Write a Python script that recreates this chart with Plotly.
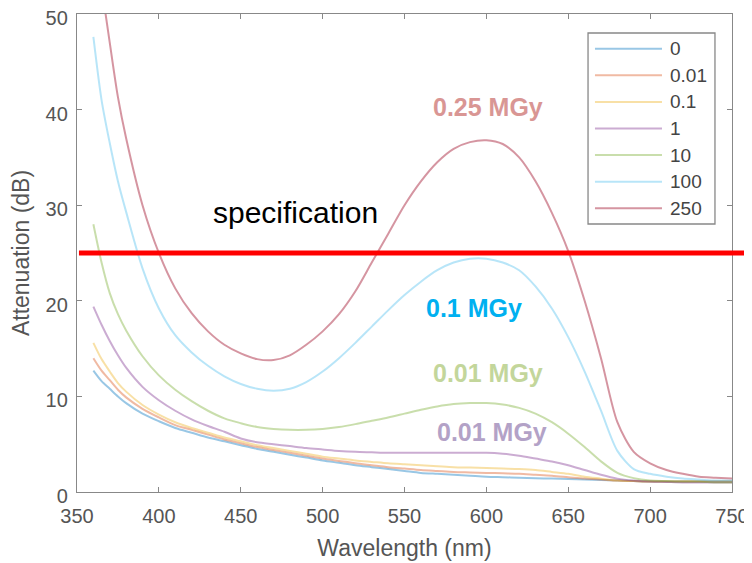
import plotly.graph_objects as go

wavelength = [360, 365, 370, 375, 380, 390, 400, 410, 420, 430, 440, 450, 460, 470,
              480, 490, 500, 510, 520, 530, 540, 550, 560, 570, 580, 590, 600, 610,
              620, 630, 640, 650, 660, 670, 680, 690, 700, 710, 720, 730, 740, 750]

dose_labels = ["0", "0.01", "0.1", "1", "10", "100", "250"]

att_0 = [12.7, 11.6, 10.8, 10.0, 9.3, 8.2, 7.4, 6.7, 6.2, 5.7, 5.3, 4.9, 4.5, 4.2,
         3.9, 3.6, 3.3, 3.05, 2.8, 2.6, 2.4, 2.2, 2.0, 1.9, 1.8, 1.7, 1.6, 1.55,
         1.5, 1.45, 1.4, 1.35, 1.3, 1.25, 1.2, 1.15, 1.1, 1.1, 1.1, 1.1, 1.1, 1.1]
att_001 = [14.0, 12.7, 11.7, 10.7, 9.9, 8.7, 7.8, 7.0, 6.5, 6.0, 5.5, 5.1, 4.7, 4.4,
           4.1, 3.8, 3.5, 3.25, 3.0, 2.8, 2.6, 2.45, 2.3, 2.2, 2.1, 2.05, 2.0, 1.95,
           1.9, 1.8, 1.7, 1.55, 1.4, 1.3, 1.2, 1.15, 1.1, 1.1, 1.1, 1.1, 1.1, 1.1]
att_01 = [15.6, 13.9, 12.6, 11.4, 10.5, 9.1, 8.1, 7.3, 6.7, 6.2, 5.7, 5.3, 4.9, 4.6,
          4.3, 4.0, 3.7, 3.5, 3.3, 3.15, 3.0, 2.9, 2.8, 2.7, 2.6, 2.55, 2.5, 2.45,
          2.4, 2.3, 2.1, 1.9, 1.6, 1.4, 1.2, 1.15, 1.1, 1.1, 1.1, 1.1, 1.1, 1.1]
att_1 = [19.4, 17.5, 15.8, 14.3, 13.0, 11.0, 9.6, 8.5, 7.6, 6.9, 6.3, 5.6, 5.2, 5.0,
         4.8, 4.6, 4.45, 4.3, 4.2, 4.15, 4.1, 4.1, 4.1, 4.1, 4.1, 4.1, 4.1, 4.0,
         3.8, 3.5, 3.2, 2.8, 2.3, 1.8, 1.4, 1.2, 1.1, 1.05, 1.0, 1.0, 1.0, 1.0]
att_10 = [28.0, 24.0, 20.8, 18.6, 16.9, 14.2, 12.2, 10.7, 9.5, 8.5, 7.7, 7.2, 6.8, 6.6,
          6.5, 6.5, 6.6, 6.8, 7.1, 7.45, 7.8, 8.2, 8.6, 8.95, 9.2, 9.3, 9.3, 9.15,
          8.8, 8.2, 7.3, 6.1, 4.7, 3.2, 2.0, 1.45, 1.2, 1.15, 1.1, 1.1, 1.0, 1.0]
att_100 = [47.6, 41.0, 36.5, 32.5, 29.3, 23.4, 19.2, 16.4, 14.6, 13.2, 12.1, 11.3, 10.8, 10.6,
           10.8, 11.5, 12.6, 14.0, 15.6, 17.3, 19.0, 20.6, 22.0, 23.2, 24.0, 24.4, 24.4, 24.0,
           23.2, 21.5, 19.2, 16.2, 12.6, 8.5, 4.3, 2.4, 1.9, 1.6, 1.4, 1.3, 1.2, 1.2]
att_250 = [60.0, 53.0, 47.0, 41.3, 37.0, 30.0, 25.0, 21.3, 18.7, 16.8, 15.4, 14.5, 13.9, 13.8,
           14.3, 15.4, 16.8, 18.6, 21.0, 24.0, 27.0, 30.0, 32.5, 34.5, 35.9, 36.6, 36.8, 36.4,
           35.0, 32.5, 29.2, 25.2, 20.0, 14.0, 7.3, 4.2, 3.0, 2.3, 1.9, 1.6, 1.5, 1.4]

series = [att_0, att_001, att_01, att_1, att_10, att_100, att_250]
colors = ["rgba(0,114,189,0.4)", "rgba(217,83,25,0.4)", "rgba(237,177,32,0.4)",
          "rgba(126,47,142,0.4)", "rgba(119,172,48,0.4)", "rgba(77,190,238,0.4)",
          "rgba(162,20,47,0.45)"]

spec_value = 25
spec_label = "specification"

notes = [
    ("0.25 MGy", 600.8, 40.3, "#d99694"),
    ("0.1 MGy", 592.3, 19.2, "#00b0f0"),
    ("0.01 MGy", 600.8, 12.4, "#c3d69b"),
    ("0.01 MGy", 603.2, 6.3, "#b3a2c7"),
]

FONT = "Liberation Sans, Arial, sans-serif"
GRAY = "#555555"

fig = go.Figure()
for lab, ys, c in zip(dose_labels, series, colors):
    fig.add_trace(go.Scatter(
        x=wavelength, y=ys, mode="lines", name=lab, showlegend=False,
        line=dict(color=c, width=2, shape="spline", smoothing=0.8),
    ))

# specification threshold line (extends past the right axis, as in the original)
fig.add_shape(type="line", xref="paper", yref="y", x0=0.003, x1=1.04,
              y0=spec_value, y1=spec_value, line=dict(color="#ff0000", width=5))

fig.add_annotation(x=483.6, y=29.2, xref="x", yref="y", text=spec_label,
                   showarrow=False, font=dict(family=FONT, size=30, color="#000000"))
for txt, nx, ny, c in notes:
    fig.add_annotation(x=nx, y=ny, xref="x", yref="y", text="<b>%s</b>" % txt,
                       showarrow=False, font=dict(family=FONT, size=25, color=c))

# legend box (MATLAB style, long sample lines)
leg_x0, leg_x1, leg_top, leg_bot = 0.7802, 0.9740, 0.9603, 0.5607
row0, row_step = 0.9274, 0.05565
line_x0, line_x1, text_x = 0.7908, 0.8931, 0.9023
fig.add_shape(type="rect", xref="paper", yref="paper", x0=leg_x0, x1=leg_x1,
              y0=leg_bot, y1=leg_top, line=dict(color="#888888", width=1.3),
              fillcolor="white", layer="above")
for k, (lab, c) in enumerate(zip(dose_labels, colors)):
    yy = row0 - k * row_step
    fig.add_shape(type="line", xref="paper", yref="paper", x0=line_x0, x1=line_x1,
                  y0=yy, y1=yy, line=dict(color=c, width=2), layer="above")
    fig.add_annotation(x=text_x, y=yy, xref="paper", yref="paper", text=lab,
                       showarrow=False, xanchor="left", yanchor="middle",
                       font=dict(family=FONT, size=19, color="#444444"))

axis_common = dict(
    showline=True, linecolor="#888888", linewidth=1.3, mirror="ticks",
    ticks="inside", ticklen=5, tickcolor="#888888", tickwidth=1,
    showgrid=False, zeroline=False, automargin=False, ticklabeloverflow="allow",
    tickfont=dict(family=FONT, size=20, color=GRAY),
)

fig.update_layout(
    width=744, height=555,
    margin=dict(l=69, r=20, t=6, b=71),
    paper_bgcolor="white", plot_bgcolor="white",
    font=dict(family=FONT, color=GRAY),
    xaxis=dict(range=[350, 750], tickvals=[350, 400, 450, 500, 550, 600, 650, 700, 750],
               title=dict(text="Wavelength (nm)", font=dict(family=FONT, size=23, color=GRAY), standoff=13),
               ticklabelstandoff=6, **axis_common),
    yaxis=dict(range=[0, 50], tickvals=[0, 10, 20, 30, 40, 50],
               title=dict(text="Attenuation (dB)", font=dict(family=FONT, size=23, color=GRAY), standoff=10),
               ticklabelstandoff=4, ticklabelshift=4, **axis_common),
    showlegend=False,
)

fig.write_html("out.html")
